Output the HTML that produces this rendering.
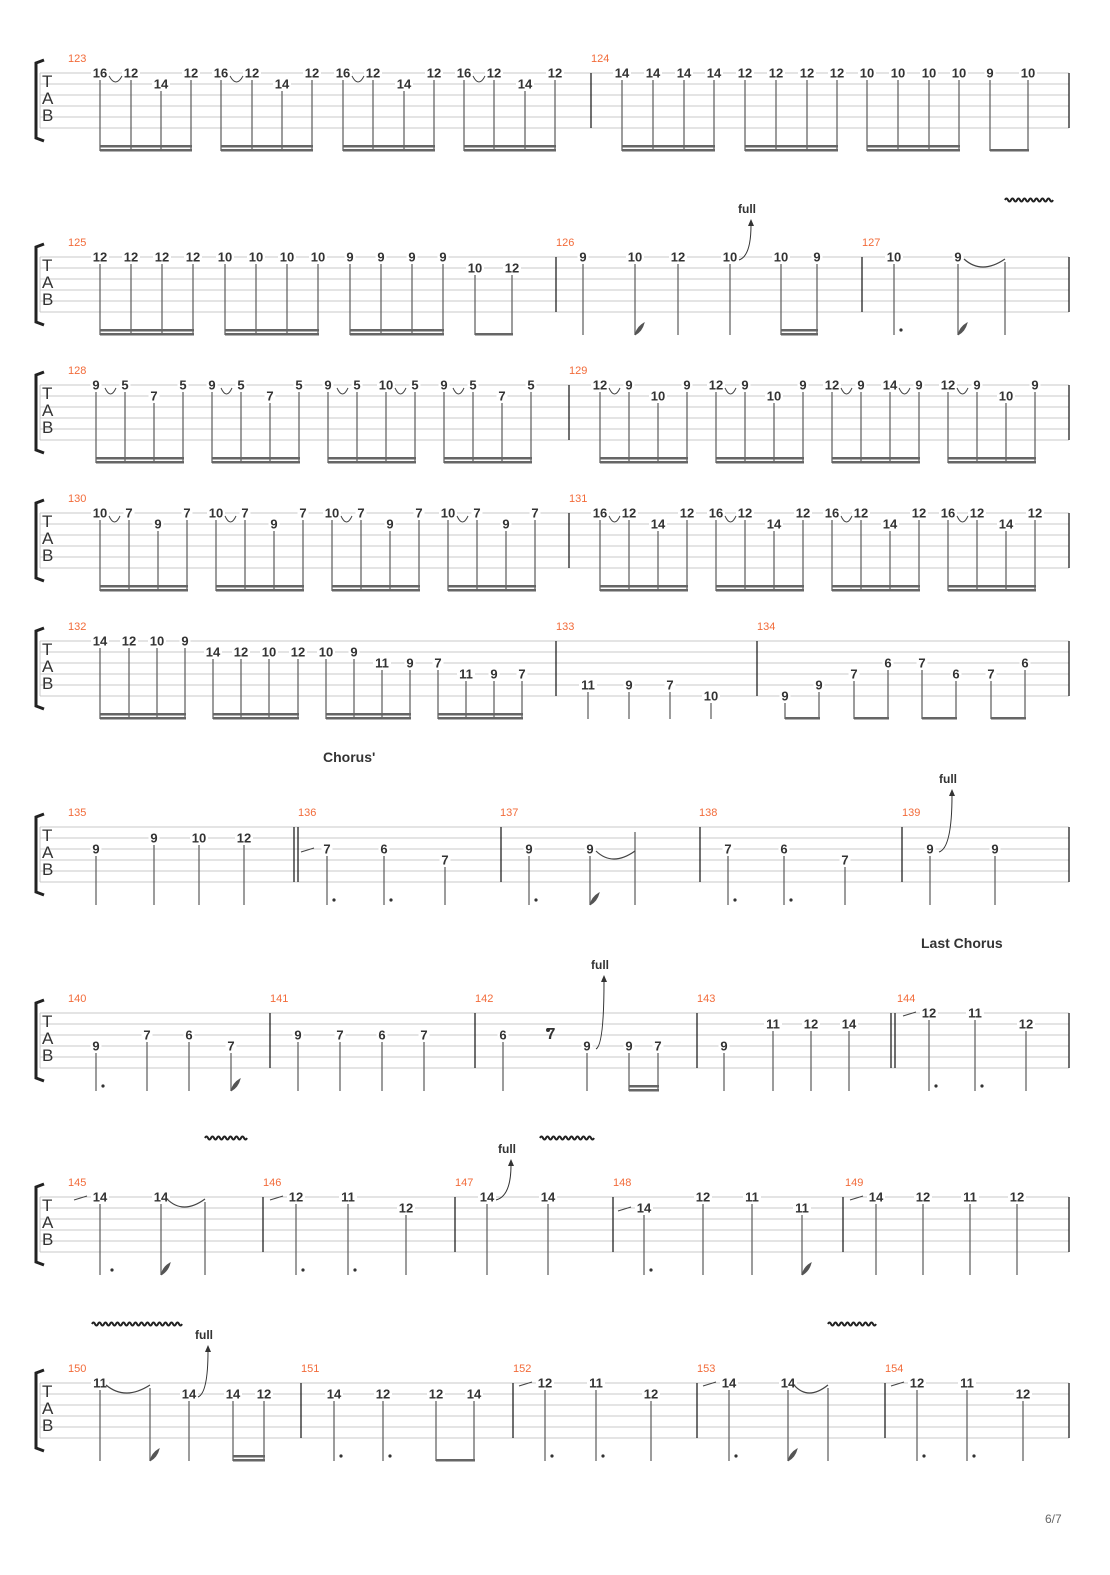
<!DOCTYPE html>
<html><head><meta charset="utf-8"><style>
html,body{margin:0;padding:0;background:#fff}
svg text{font-family:"Liberation Sans","DejaVu Sans",sans-serif}
</style></head><body>
<svg id="s" width="1110" height="1570" viewBox="0 0 1110 1570" xmlns="http://www.w3.org/2000/svg"></svg>
<script>
const rows=[
{t:73,m:[[68,123],[591,124]],bars:[591],
 n:[[100,1,16],[131,1,12],[161,2,14],[191,1,12],[221,1,16],[252,1,12],[282,2,14],[312,1,12],[343,1,16],[373,1,12],[404,2,14],[434,1,12],[464,1,16],[494,1,12],[525,2,14],[555,1,12],
 [622,1,14],[653,1,14],[684,1,14],[714,1,14],[745,1,12],[776,1,12],[807,1,12],[837,1,12],[867,1,10],[898,1,10],[929,1,10],[959,1,10],[990,1,9],[1028,1,10]],
 b16:[[100,191],[221,312],[343,434],[464,555],[622,714],[745,837],[867,959]],b8:[[990,1028]],
 ties:[[100,131,1],[221,252,1],[343,373,1],[464,494,1]]},
{t:257,m:[[68,125],[556,126],[862,127]],bars:[556,862],
 n:[[100,1,12],[131,1,12],[162,1,12],[193,1,12],[225,1,10],[256,1,10],[287,1,10],[318,1,10],[350,1,9],[381,1,9],[412,1,9],[443,1,9],[475,2,10],[512,2,12],
 [583,1,9],[635,1,10],[678,1,12],[730,1,10],[781,1,10],[817,1,9],[894,1,10],[958,1,9]],
 st:[1005],b16:[[100,193],[225,318],[350,443],[781,817]],b8:[[475,512]],
 dots:[894],flags:[635,958],longties:[[958,1005,1]],bends:[[730,1,747]],vib:[[1005,1048,200]]},
{t:385,m:[[68,128],[569,129]],bars:[569],
 n:[[96,1,9],[125,1,5],[154,2,7],[183,1,5],[212,1,9],[241,1,5],[270,2,7],[299,1,5],[328,1,9],[357,1,5],[386,1,10],[415,1,5],[444,1,9],[473,1,5],[502,2,7],[531,1,5],
 [600,1,12],[629,1,9],[658,2,10],[687,1,9],[716,1,12],[745,1,9],[774,2,10],[803,1,9],[832,1,12],[861,1,9],[890,1,14],[919,1,9],[948,1,12],[977,1,9],[1006,2,10],[1035,1,9]],
 b16:[[96,183],[212,299],[328,415],[444,531],[600,687],[716,803],[832,919],[948,1035]],
 ties:[[96,125,1],[212,241,1],[328,357,1],[386,415,1],[444,473,1],[600,629,1],[716,745,1],[832,861,1],[890,919,1],[948,977,1]]},
{t:513,m:[[68,130],[569,131]],bars:[569],
 n:[[100,1,10],[129,1,7],[158,2,9],[187,1,7],[216,1,10],[245,1,7],[274,2,9],[303,1,7],[332,1,10],[361,1,7],[390,2,9],[419,1,7],[448,1,10],[477,1,7],[506,2,9],[535,1,7],
 [600,1,16],[629,1,12],[658,2,14],[687,1,12],[716,1,16],[745,1,12],[774,2,14],[803,1,12],[832,1,16],[861,1,12],[890,2,14],[919,1,12],[948,1,16],[977,1,12],[1006,2,14],[1035,1,12]],
 b16:[[100,187],[216,303],[332,419],[448,535],[600,687],[716,803],[832,919],[948,1035]],
 ties:[[100,129,1],[216,245,1],[332,361,1],[448,477,1],[600,629,1],[716,745,1],[832,861,1],[948,977,1]]},
{t:641,m:[[68,132],[556,133],[757,134]],bars:[556,757],
 n:[[100,1,14],[129,1,12],[157,1,10],[185,1,9],[213,2,14],[241,2,12],[269,2,10],[298,2,12],[326,2,10],[354,2,9],[382,3,11],[410,3,9],[438,3,7],[466,4,11],[494,4,9],[522,4,7],
 [588,5,11],[629,5,9],[670,5,7],[711,6,10],[785,6,9],[819,5,9],[854,4,7],[888,3,6],[922,3,7],[956,4,6],[991,4,7],[1025,3,6]],
 b16:[[100,185],[213,298],[326,410],[438,522]],b8:[[785,819],[854,888],[922,956],[991,1025]]},
{t:827,m:[[68,135],[298,136],[500,137],[699,138],[902,139]],bars:[501,700,902],dbl:[294],
 n:[[96,3,9],[154,2,9],[199,2,10],[244,2,12],[327,3,7],[384,3,6],[445,4,7],[529,3,9],[590,3,9],[728,3,7],[784,3,6],[845,4,7],[930,3,9],[995,3,9]],
 st:[635],dots:[327,384,529,728,784],flags:[590],longties:[[590,635,3]],slides:[[327,3]],bends:[[930,3,948]],
 txt:[[323,762,"Chorus'"]]},
{t:1013,m:[[68,140],[270,141],[475,142],[697,143],[897,144]],bars:[270,475,697],dbl:[891],
 n:[[96,4,9],[147,3,7],[189,3,6],[231,4,7],[298,3,9],[340,3,7],[382,3,6],[424,3,7],[503,3,6],[587,4,9],[629,4,9],[658,4,7],[724,4,9],[773,2,11],[811,2,12],[849,2,14],[929,1,12],[975,1,11],[1026,2,12]],
 b16:[[629,658]],dots:[96,929,975],flags:[231],slides:[[929,1]],bends:[[587,4,600]],rest:[551,1033],
 txt:[[921,948,"Last Chorus"]]},
{t:1197,m:[[68,145],[263,146],[455,147],[613,148],[845,149]],bars:[263,455,613,843],
 n:[[100,1,14],[161,1,14],[296,1,12],[348,1,11],[406,2,12],[487,1,14],[548,1,14],[644,2,14],[703,1,12],[752,1,11],[802,2,11],[876,1,14],[923,1,12],[970,1,11],[1017,1,12]],
 st:[205],dots:[105,296,348,644],flags:[161,802],longties:[[161,205,1]],slides:[[100,1],[296,1],[644,2],[876,1]],bends:[[487,1,507]],vib:[[205,247,1138],[540,592,1138]]},
{t:1383,m:[[68,150],[301,151],[513,152],[697,153],[885,154]],bars:[301,513,697,885],
 n:[[100,1,11],[189,2,14],[233,2,14],[264,2,12],[334,2,14],[383,2,12],[436,2,12],[474,2,14],[545,1,12],[596,1,11],[651,2,12],[729,1,14],[788,1,14],[917,1,12],[967,1,11],[1023,2,12]],
 st:[150,828],b16:[[233,264]],b8:[[436,474]],dots:[334,383,545,596,729,917,967],flags:[150,788],
 longties:[[100,150,1],[788,828,1]],slides:[[545,1],[729,1],[917,1]],bends:[[189,2,204]],vib:[[92,178,1324],[828,871,1324]]}
];
let o='';
const L=(x1,y1,x2,y2,c,w)=>`<line x1="${x1}" y1="${y1}" x2="${x2}" y2="${y2}" stroke="${c}" stroke-width="${w}"/>`;
for(const r of rows){
 const t=r.t, bot=t+78;
 for(let i=0;i<6;i++)o+=L(40,t+i*11,1069,t+i*11,'#c8c8c8',1);
 o+=L(40,t,40,t+55,'#c8c8c8',1);
 o+=`<path d="M44 ${t-13} L36 ${t-10} L36 ${t+65} L44 ${t+68}" fill="none" stroke="#222" stroke-width="3"/>`;
 o+=`<text x="42" y="${t+14}" font-size="17" fill="#333">T</text><text x="42" y="${t+31}" font-size="17" fill="#333">A</text><text x="42" y="${t+48}" font-size="17" fill="#333">B</text>`;
 o+=L(1069,t,1069,t+55,'#222',1.3);
 for(const b of r.bars)o+=L(b,t,b,t+55,'#222',1.3);
 for(const b of (r.dbl||[])){o+=L(b,t,b,t+55,'#222',1.3);o+=L(b+4,t,b+4,t+55,'#222',1.3);}
 for(const m of r.m)o+=`<text x="${m[0]}" y="${t-11}" font-size="11" fill="#f26b3a">${m[1]}</text>`;
 for(const n of r.n){
  const y=t+(n[1]-1)*11;
  const w=String(n[2]).length*7+4;
  o+=`<rect x="${n[0]-w/2}" y="${y-6}" width="${w}" height="11" fill="#fff"/>`;
  o+=`<text x="${n[0]}" y="${y+4.5}" font-size="13" font-weight="bold" text-anchor="middle" fill="#333">${n[2]}</text>`;
  o+=L(n[0],y+7,n[0],bot,'#666',1.3);
 }
 for(const x of (r.st||[]))o+=L(x,t+5,x,bot,'#666',1.3);
 for(const b of (r.b16||[])){o+=`<rect x="${b[0]}" y="${bot-6}" width="${b[1]-b[0]+1}" height="2.5" fill="#666"/><rect x="${b[0]}" y="${bot-2}" width="${b[1]-b[0]+1}" height="2.5" fill="#666"/>`;}
 for(const b of (r.b8||[]))o+=`<rect x="${b[0]}" y="${bot-2}" width="${b[1]-b[0]+1}" height="2.5" fill="#666"/>`;
 for(const x of (r.dots||[]))o+=`<circle cx="${x+7}" cy="${bot-5}" r="1.6" fill="#333"/>`;
 for(const x of (r.flags||[]))o+=`<path d="M${x} ${bot} Q${x+2} ${bot-8} ${x+9} ${bot-12} Q${x+7} ${bot-4} ${x} ${bot}" fill="#555" stroke="#555" stroke-width="1"/>`;
 for(const a of (r.ties||[])){const y=t+(a[2]-1)*11+3;o+=`<path d="M${a[0]+9} ${y} Q${(a[0]+a[1])/2} ${y+12} ${a[1]-9} ${y}" fill="none" stroke="#444" stroke-width="1"/>`;}
 for(const a of (r.longties||[])){const y=t+(a[2]-1)*11+2;o+=`<path d="M${a[0]+6} ${y} Q${(a[0]+a[1])/2} ${y+16} ${a[1]} ${y}" fill="none" stroke="#444" stroke-width="1.2"/>`;}
 for(const s of (r.slides||[])){const y=t+(s[1]-1)*11;o+=L(s[0]-26,y+3,s[0]-13,y-1,'#444',1);}
 for(const b of (r.bends||[])){const x=b[0]+9,y=t+(b[1]-1)*11+3;const top=t-40;o+=`<path d="M${x} ${y} Q${b[2]+4} ${y-4} ${b[2]+4} ${top+8}" fill="none" stroke="#333" stroke-width="1"/><path d="M${b[2]+1} ${top+9} L${b[2]+4} ${top+2} L${b[2]+7} ${top+9}Z" fill="#333"/><text x="${b[2]}" y="${top-4}" font-size="12" font-weight="bold" text-anchor="middle" fill="#333">full</text>`;}
 for(const v of (r.vib||[])){let d=`M${v[0]} ${v[2]}`;for(let x=v[0];x<v[1];x+=6)d+=` q1.5 -3 3 0 q1.5 3 3 0`;o+=`<path d="${d}" fill="none" stroke="#222" stroke-width="2"/>`;}
 if(r.rest)o+=`<text x="${r.rest[0]}" y="${t+26}" font-size="16" font-weight="bold" text-anchor="middle" fill="#333">7</text><circle cx="${r.rest[0]-3}" cy="${t+17}" r="2" fill="#333"/>`;
 for(const x of (r.txt||[]))o+=`<text x="${x[0]}" y="${x[1]}" font-size="14" font-weight="bold" fill="#333">${x[2]}</text>`;
}
o+=`<text x="1045" y="1523" font-size="12" fill="#666">6/7</text>`;
document.getElementById('s').innerHTML=o;
</script>
</body></html>
